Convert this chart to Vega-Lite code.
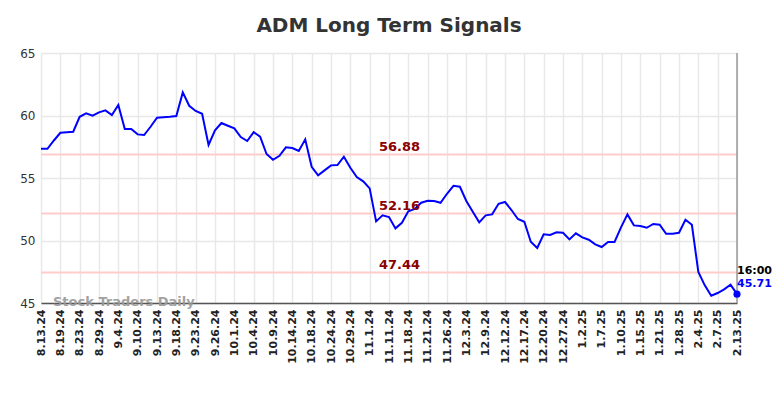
{
  "$schema": "https://vega.github.io/schema/vega-lite/v6.json",
  "width": 696,
  "height": 250,
  "autosize": {"type": "none"},
  "padding": {"left": 41, "top": 53, "right": 47, "bottom": 95},
  "background": "white",
  "title": {
    "text": "ADM Long Term Signals",
    "fontSize": 20,
    "font": "DejaVu Sans",
    "fontWeight": "bold",
    "color": "#333333",
    "anchor": "middle",
    "frame": "group",
    "offset": 11
  },
  "config": {
    "view": {"stroke": null},
    "font": "DejaVu Sans"
  },
  "datasets": {
    "prices": [
      {"date": "8.13.24", "value": 57.34}, {"date": "8.14.24", "value": 57.34}, {"date": "8.16.24", "value": 58.0},
      {"date": "8.19.24", "value": 58.62}, {"date": "8.20.24", "value": 58.66}, {"date": "8.22.24", "value": 58.7},
      {"date": "8.23.24", "value": 59.9}, {"date": "8.26.24", "value": 60.17}, {"date": "8.27.24", "value": 59.98},
      {"date": "8.29.24", "value": 60.25}, {"date": "8.30.24", "value": 60.41}, {"date": "9.3.24", "value": 60.04},
      {"date": "9.4.24", "value": 60.84}, {"date": "9.5.24", "value": 58.92}, {"date": "9.9.24", "value": 58.92},
      {"date": "9.10.24", "value": 58.49}, {"date": "9.11.24", "value": 58.44}, {"date": "9.12.24", "value": 59.1},
      {"date": "9.13.24", "value": 59.82}, {"date": "9.16.24", "value": 59.86}, {"date": "9.17.24", "value": 59.9},
      {"date": "9.18.24", "value": 59.96}, {"date": "9.19.24", "value": 61.85}, {"date": "9.20.24", "value": 60.78},
      {"date": "9.23.24", "value": 60.36}, {"date": "9.24.24", "value": 60.14}, {"date": "9.25.24", "value": 57.64},
      {"date": "9.26.24", "value": 58.81}, {"date": "9.27.24", "value": 59.4}, {"date": "9.30.24", "value": 59.18},
      {"date": "10.1.24", "value": 58.97}, {"date": "10.2.24", "value": 58.28}, {"date": "10.3.24", "value": 57.96},
      {"date": "10.4.24", "value": 58.67}, {"date": "10.7.24", "value": 58.3}, {"date": "10.8.24", "value": 56.92},
      {"date": "10.9.24", "value": 56.46}, {"date": "10.10.24", "value": 56.78}, {"date": "10.11.24", "value": 57.45},
      {"date": "10.14.24", "value": 57.4}, {"date": "10.16.24", "value": 57.16}, {"date": "10.17.24", "value": 58.09},
      {"date": "10.18.24", "value": 55.9}, {"date": "10.22.24", "value": 55.21}, {"date": "10.23.24", "value": 55.61},
      {"date": "10.24.24", "value": 56.01}, {"date": "10.25.24", "value": 56.04}, {"date": "10.28.24", "value": 56.7},
      {"date": "10.29.24", "value": 55.82}, {"date": "10.30.24", "value": 55.08}, {"date": "10.31.24", "value": 54.73},
      {"date": "11.1.24", "value": 54.17}, {"date": "11.5.24", "value": 51.53}, {"date": "11.7.24", "value": 52.01},
      {"date": "11.11.24", "value": 51.88}, {"date": "11.13.24", "value": 50.97}, {"date": "11.15.24", "value": 51.42},
      {"date": "11.18.24", "value": 52.33}, {"date": "11.19.24", "value": 52.52}, {"date": "11.20.24", "value": 53.02},
      {"date": "11.21.24", "value": 53.18}, {"date": "11.22.24", "value": 53.16}, {"date": "11.25.24", "value": 53.02},
      {"date": "11.26.24", "value": 53.74}, {"date": "11.27.24", "value": 54.38}, {"date": "12.2.24", "value": 54.3},
      {"date": "12.3.24", "value": 53.16}, {"date": "12.5.24", "value": 52.3}, {"date": "12.6.24", "value": 51.45},
      {"date": "12.9.24", "value": 52.01}, {"date": "12.10.24", "value": 52.09}, {"date": "12.11.24", "value": 52.94},
      {"date": "12.12.24", "value": 53.08}, {"date": "12.13.24", "value": 52.44}, {"date": "12.16.24", "value": 51.72},
      {"date": "12.17.24", "value": 51.5}, {"date": "12.18.24", "value": 49.9}, {"date": "12.19.24", "value": 49.4},
      {"date": "12.20.24", "value": 50.49}, {"date": "12.23.24", "value": 50.44}, {"date": "12.26.24", "value": 50.65},
      {"date": "12.27.24", "value": 50.62}, {"date": "12.30.24", "value": 50.09}, {"date": "12.31.24", "value": 50.57},
      {"date": "1.2.25", "value": 50.25}, {"date": "1.3.25", "value": 50.06}, {"date": "1.6.25", "value": 49.69},
      {"date": "1.7.25", "value": 49.48}, {"date": "1.8.25", "value": 49.88}, {"date": "1.9.25", "value": 49.88},
      {"date": "1.10.25", "value": 51.05}, {"date": "1.13.25", "value": 52.09}, {"date": "1.14.25", "value": 51.21},
      {"date": "1.15.25", "value": 51.16}, {"date": "1.16.25", "value": 51.02}, {"date": "1.17.25", "value": 51.32},
      {"date": "1.21.25", "value": 51.26}, {"date": "1.23.25", "value": 50.54}, {"date": "1.27.25", "value": 50.54},
      {"date": "1.28.25", "value": 50.62}, {"date": "1.30.25", "value": 51.66}, {"date": "2.3.25", "value": 51.26},
      {"date": "2.4.25", "value": 47.48}, {"date": "2.5.25", "value": 46.41}, {"date": "2.6.25", "value": 45.58},
      {"date": "2.7.25", "value": 45.8}, {"date": "2.10.25", "value": 46.09}, {"date": "2.11.25", "value": 46.46},
      {"date": "2.13.25", "value": 45.71}
    ],
    "levels": [
      {"date": "11.13.24", "level": 56.88, "label": "56.88"},
      {"date": "11.13.24", "level": 52.16, "label": "52.16"},
      {"date": "11.13.24", "level": 47.44, "label": "47.44"}
    ],
    "last": [
      {"date": "2.13.25", "value": 45.71, "time": "16:00", "price": "45.71"}
    ],
    "brand": [
      {"date": "8.13.24", "value": 45, "name": "Stock Traders Daily"}
    ]
  },
  "encoding": {
    "x": {
      "field": "date",
      "type": "nominal",
      "sort": null,
      "scale": {
        "type": "point",
        "padding": 0,
        "domain": ["8.13.24", "8.14.24", "8.16.24", "8.19.24", "8.20.24", "8.22.24", "8.23.24", "8.26.24", "8.27.24", "8.29.24", "8.30.24", "9.3.24", "9.4.24", "9.5.24", "9.9.24", "9.10.24", "9.11.24", "9.12.24", "9.13.24", "9.16.24", "9.17.24", "9.18.24", "9.19.24", "9.20.24", "9.23.24", "9.24.24", "9.25.24", "9.26.24", "9.27.24", "9.30.24", "10.1.24", "10.2.24", "10.3.24", "10.4.24", "10.7.24", "10.8.24", "10.9.24", "10.10.24", "10.11.24", "10.14.24", "10.16.24", "10.17.24", "10.18.24", "10.22.24", "10.23.24", "10.24.24", "10.25.24", "10.28.24", "10.29.24", "10.30.24", "10.31.24", "11.1.24", "11.5.24", "11.7.24", "11.11.24", "11.13.24", "11.15.24", "11.18.24", "11.19.24", "11.20.24", "11.21.24", "11.22.24", "11.25.24", "11.26.24", "11.27.24", "12.2.24", "12.3.24", "12.5.24", "12.6.24", "12.9.24", "12.10.24", "12.11.24", "12.12.24", "12.13.24", "12.16.24", "12.17.24", "12.18.24", "12.19.24", "12.20.24", "12.23.24", "12.26.24", "12.27.24", "12.30.24", "12.31.24", "1.2.25", "1.3.25", "1.6.25", "1.7.25", "1.8.25", "1.9.25", "1.10.25", "1.13.25", "1.14.25", "1.15.25", "1.16.25", "1.17.25", "1.21.25", "1.23.25", "1.27.25", "1.28.25", "1.30.25", "2.3.25", "2.4.25", "2.5.25", "2.6.25", "2.7.25", "2.10.25", "2.11.25", "2.13.25"]
      },
      "axis": {
        "title": null,
        "values": ["8.13.24", "8.19.24", "8.23.24", "8.29.24", "9.4.24", "9.10.24", "9.13.24", "9.18.24", "9.23.24", "9.26.24", "10.1.24", "10.4.24", "10.9.24", "10.14.24", "10.18.24", "10.24.24", "10.29.24", "11.1.24", "11.11.24", "11.18.24", "11.21.24", "11.26.24", "12.3.24", "12.9.24", "12.12.24", "12.17.24", "12.20.24", "12.27.24", "1.2.25", "1.7.25", "1.10.25", "1.15.25", "1.21.25", "1.28.25", "2.4.25", "2.7.25", "2.13.25"],
        "labelAngle": -90,
        "labelFontSize": 11,
        "labelFontWeight": "bold",
        "labelColor": "#222222",
        "labelPadding": 6,
        "ticks": false,
        "domainColor": "#555555",
        "domainWidth": 1.5,
        "grid": true,
        "gridColor": "#e8e8e8",
        "gridWidth": 1.5
      }
    }
  },
  "layer": [
    {
      "data": {"name": "levels"},
      "mark": {"type": "rule", "color": "#ffcccc", "strokeWidth": 2},
      "encoding": {
        "x": null,
        "y": {"field": "level", "type": "quantitative"}
      }
    },
    {
      "data": {"name": "last"},
      "mark": {"type": "rule", "color": "#999999", "strokeWidth": 1.5},
      "encoding": {}
    },
    {
      "data": {"name": "prices"},
      "mark": {"type": "line", "color": "#0000ff", "strokeWidth": 2},
      "encoding": {
        "y": {
          "field": "value",
          "type": "quantitative",
          "scale": {"domain": [45, 65], "zero": false, "nice": false},
          "axis": {
            "title": null,
            "values": [45, 50, 55, 60, 65],
            "labelFontSize": 12,
            "labelColor": "#333333",
            "labelPadding": 6,
            "ticks": false,
            "domain": false,
            "grid": true,
            "gridColor": "#e8e8e8",
            "gridWidth": 1.5
          }
        }
      }
    },
    {
      "data": {"name": "levels"},
      "mark": {"type": "text", "color": "#8b0000", "fontSize": 13, "fontWeight": "bold", "align": "center", "baseline": "alphabetic", "dy": -4, "dx": 4},
      "encoding": {
        "y": {"field": "level", "type": "quantitative"},
        "text": {"field": "label"}
      }
    },
    {
      "data": {"name": "brand"},
      "mark": {"type": "text", "color": "#999999", "opacity": 0.9, "fontSize": 13, "fontWeight": "bold", "align": "left", "baseline": "middle", "dx": 12, "dy": -1},
      "encoding": {
        "y": {"field": "value", "type": "quantitative"},
        "text": {"field": "name"}
      }
    },
    {
      "data": {"name": "last"},
      "mark": {"type": "point", "filled": true, "color": "#0000ff", "size": 50, "opacity": 1},
      "encoding": {
        "y": {"field": "value", "type": "quantitative"}
      }
    },
    {
      "data": {"name": "last"},
      "mark": {"type": "text", "color": "#000000", "fontSize": 11, "fontWeight": "bold", "align": "left", "baseline": "middle", "dy": -23},
      "encoding": {
        "y": {"field": "value", "type": "quantitative"},
        "text": {"field": "time"}
      }
    },
    {
      "data": {"name": "last"},
      "mark": {"type": "text", "color": "#0000ff", "fontSize": 11, "fontWeight": "bold", "align": "left", "baseline": "middle", "dy": -10},
      "encoding": {
        "y": {"field": "value", "type": "quantitative"},
        "text": {"field": "price"}
      }
    }
  ]
}
